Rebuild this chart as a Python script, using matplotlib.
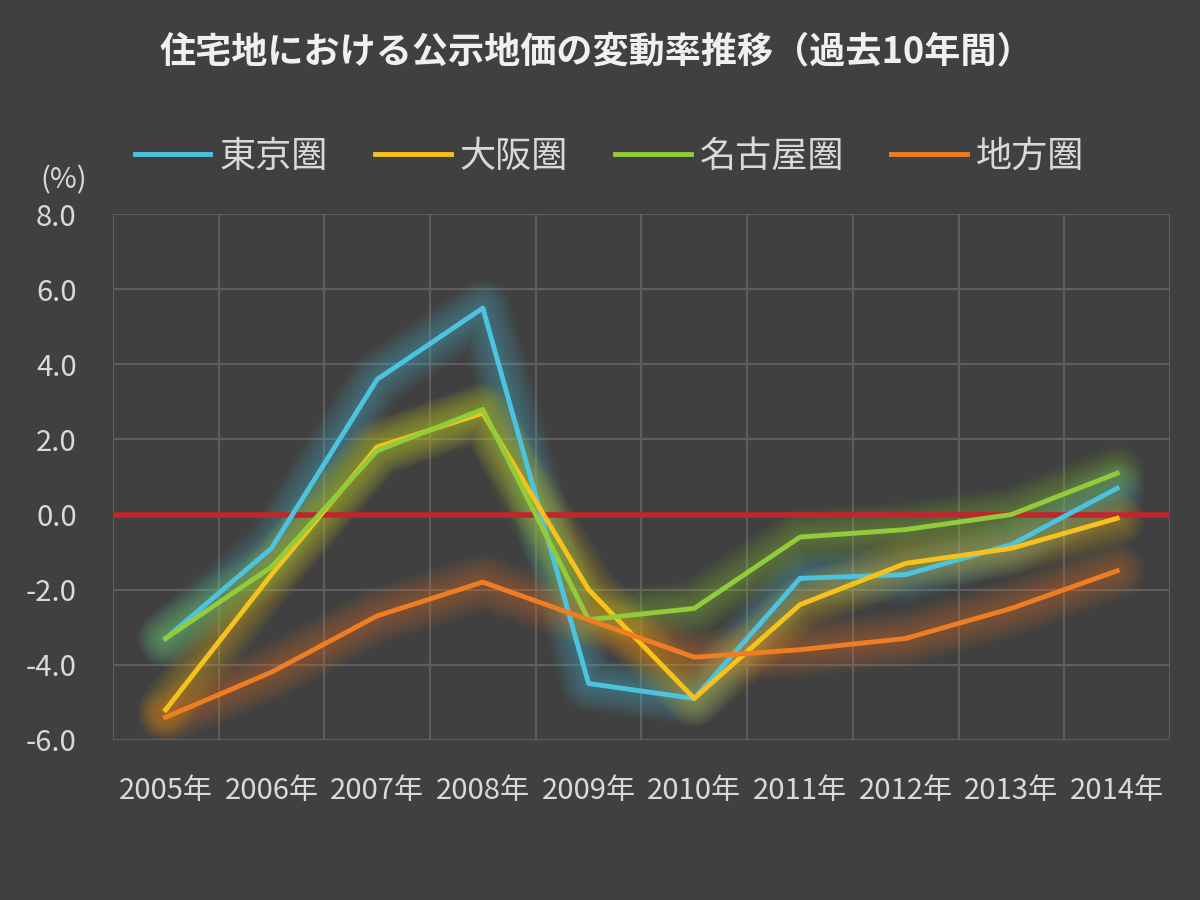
import numpy as np
import matplotlib
matplotlib.use("Agg")
import matplotlib.pyplot as plt

plt.rcParams['font.family'] = ['Noto Sans CJK JP', 'DejaVu Sans']
plt.rcParams['axes.unicode_minus'] = False

# data: 住宅地 公示地価 変動率 (%)
years = ["2005年", "2006年", "2007年", "2008年", "2009年",
         "2010年", "2011年", "2012年", "2013年", "2014年"]
tokyo = [-3.3, -0.9, 3.6, 5.5, -4.5, -4.9, -1.7, -1.6, -0.8, 0.7]
osaka = [-5.2, -1.6, 1.8, 2.7, -2.0, -4.9, -2.4, -1.3, -0.9, -0.1]
nagoya = [-3.3, -1.4, 1.7, 2.8, -2.8, -2.5, -0.6, -0.4, 0.0, 1.1]
chiho = [-5.4, -4.2, -2.7, -1.8, -2.8, -3.8, -3.6, -3.3, -2.5, -1.5]
series_names = ["東京圏", "大阪圏", "名古屋圏", "地方圏"]
colors = ["#4cc4e0", "#f7c21b", "#92cc3a", "#ee7d24"]

bg = "#404040"
txt = "#d9d9d9"
grid_c = "#5e5e5e"

fig = plt.figure(figsize=(12, 9), dpi=100, facecolor=bg)
ax = fig.add_axes([0.094, 0.178, 0.881, 0.584], facecolor=bg)

x = np.arange(len(years))
all_series = [tokyo, osaka, nagoya, chiho]

# soft glow under each line (many faint wide strokes)
glow_widths = np.linspace(40, 8, 12)
for vals, c in zip(all_series, colors):
    for lw in glow_widths:
        ax.plot(x, vals, color=c, lw=lw, alpha=0.035, solid_capstyle="round",
                solid_joinstyle="round", zorder=2)

ax.axhline(0, color="#c0262b", lw=4, zorder=3)

handles = []
for vals, c, name in zip(all_series, colors, series_names):
    h, = ax.plot(x, vals, color=c, lw=3.5, label=name, zorder=4,
                 solid_joinstyle="round")
    handles.append(h)

ax.set_xlim(-0.5, 9.5)
ax.set_ylim(-6, 8)
ax.set_yticks(np.arange(-6, 9, 2))
ax.set_yticklabels(["%.1f" % v for v in np.arange(-6, 9, 2)])
ax.set_xticks(x)
ax.set_xticklabels(years)
ax.set_xticks(np.arange(-0.5, 10, 1), minor=True)
ax.grid(axis="y", which="major", color=grid_c, lw=1.5, zorder=1)
ax.grid(axis="x", which="minor", color=grid_c, lw=1.5, zorder=1)
ax.tick_params(axis="both", which="both", length=0, colors=txt)
ax.tick_params(axis="y", labelsize=21, pad=26)
ax.tick_params(axis="x", labelsize=21, pad=26)
for s in ax.spines.values():
    s.set_visible(False)

fig.text(0.497, 0.942, "住宅地における公示地価の変動率推移（過去10年間）",
         ha="center", va="center", fontsize=26, fontweight="bold", color="#f0f0f0")
fig.text(0.034, 0.80, "(%)", ha="left", va="center", fontsize=21, color=txt)

fig.legend(handles=handles, labels=series_names, loc="center",
           bbox_to_anchor=(0.508, 0.826), ncol=4, frameon=False,
           fontsize=26, labelcolor=txt, handlelength=2.1, handletextpad=0.25,
           columnspacing=1.3)

fig.savefig("out.png", dpi=100, facecolor=bg)
